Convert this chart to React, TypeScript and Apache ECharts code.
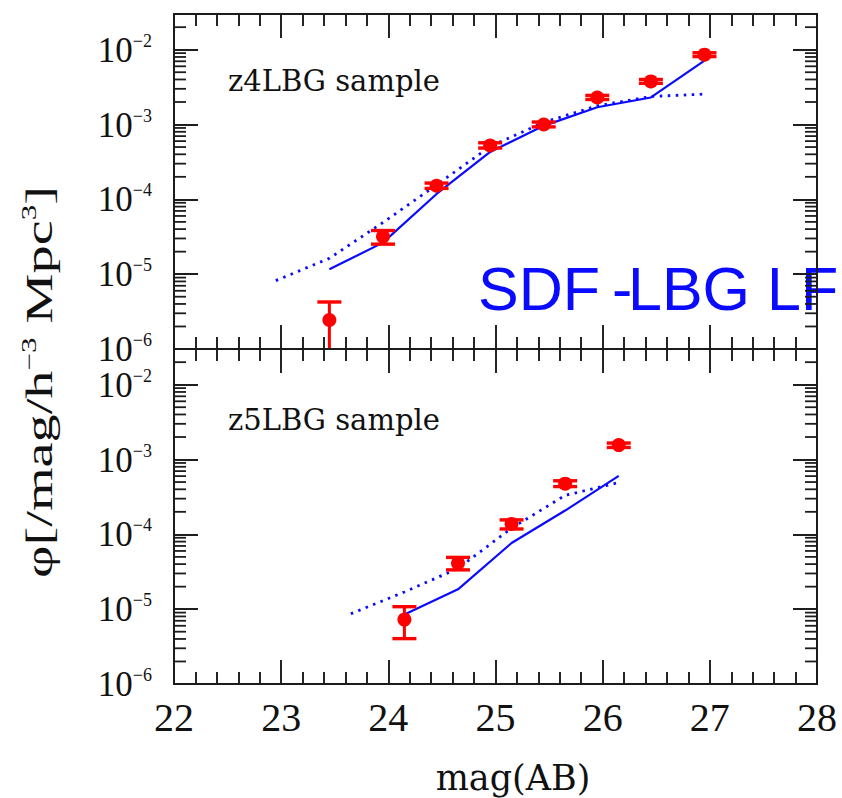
import React, { useEffect, useRef } from 'react';
import * as echarts from 'echarts';

// ---- axis definitions ----
const magMin = 22;
const magMax = 28;
const phiMin = 1e-6;
const phiMax = 3e-2;

// ---- z4LBG sample (top panel) ----
const z4Mag = [23.45, 23.95, 24.45, 24.95, 25.45, 25.95, 26.45, 26.95];
const z4Phi = [2.44e-6, 3.18e-5, 1.52e-4, 5.25e-4, 1.0e-3, 2.3e-3, 3.77e-3, 8.58e-3];
const z4Hi = [4.25e-6, 3.83e-5, 1.65e-4, 5.7e-4, 1.08e-3, 2.45e-3, 4.0e-3, 9.1e-3];
const z4Lo = [8e-7, 2.52e-5, 1.4e-4, 4.85e-4, 0.93e-3, 2.16e-3, 3.55e-3, 8.1e-3];
const z4SolidMag = [23.45, 23.95, 24.45, 24.95, 25.45, 25.95, 26.45, 26.95];
const z4Solid = [1.16e-5, 2.64e-5, 1.18e-4, 4.3e-4, 9.6e-4, 1.7e-3, 2.3e-3, 7.13e-3];
const z4DottedMag = [22.95, 23.45, 23.95, 24.45, 24.95, 25.45, 25.95, 26.45, 26.95];
const z4Dotted = [8.2e-6, 1.63e-5, 4.9e-5, 1.56e-4, 5.08e-4, 1.07e-3, 1.78e-3, 2.37e-3, 2.55e-3];

// ---- z5LBG sample (bottom panel) ----
const z5Mag = [24.15, 24.65, 25.15, 25.65, 26.15];
const z5Phi = [7.26e-6, 4.12e-5, 1.38e-4, 4.76e-4, 1.56e-3];
const z5Hi = [1.08e-5, 4.92e-5, 1.56e-4, 5.2e-4, 1.66e-3];
const z5Lo = [4.04e-6, 3.35e-5, 1.18e-4, 4.35e-4, 1.45e-3];
const z5SolidMag = [24.15, 24.65, 25.15, 25.65, 26.15];
const z5Solid = [8.5e-6, 1.84e-5, 7.66e-5, 2.08e-4, 6.05e-4];
const z5DottedMag = [23.65, 24.15, 24.65, 25.15, 25.65, 26.15];
const z5Dotted = [8.67e-6, 1.7e-5, 3.5e-5, 1.21e-4, 3.32e-4, 4.92e-4];

const panelLabels = ['z4LBG sample', 'z5LBG sample'];
const xTitle = 'mag(AB)';

const FRAME = '#1c1c1c';
const RED = '#ff0000';
const BLUE = '#0a0aff';
const SERIF = '"Liberation Serif", "DejaVu Serif", serif';
const SERIF_WIDE = '"DejaVu Serif", "Liberation Serif", serif';

// minor tick values on the log axis (2..9 x 10^k)
const minorPhi: number[] = [];
for (let k = -6; k <= -2; k++) {
  for (let m = 2; m <= 9; m++) {
    const v = m * Math.pow(10, k);
    if (v <= phiMax * 1.0001) minorPhi.push(v);
  }
}

const GRIDS = [
  { left: 174, right: 25, top: 14, height: 335 },
  { left: 174, right: 25, top: 349, height: 335 },
];

function xAxesFor(gridIndex: number, labels: boolean) {
  const base: any = {
    type: 'value',
    gridIndex,
    min: magMin,
    max: magMax,
    interval: 1,
    axisLine: { show: true, onZero: false, lineStyle: { color: FRAME, width: 2 } },
    axisTick: { show: true, inside: true, length: 24, lineStyle: { color: FRAME, width: 1.6 } },
    minorTick: { show: true, splitNumber: 5, length: 12, lineStyle: { color: FRAME, width: 1.6 } },
    splitLine: { show: false },
  };
  return [
    {
      ...base,
      position: 'bottom',
      axisLabel: labels
        ? { show: true, margin: 13, fontFamily: SERIF, fontSize: 40, color: '#111' }
        : { show: false },
    },
    { ...base, position: 'top', axisLabel: { show: false } },
  ];
}

function yLabel(v: number) {
  const e = Math.log10(v);
  const r = Math.round(e);
  if (Math.abs(e - r) > 0.01) return '';
  return '{b|10}{s|\u2212' + -r + '}';
}

function yAxesFor(gridIndex: number, labels: boolean) {
  const base: any = {
    type: 'log',
    logBase: 10,
    gridIndex,
    min: phiMin,
    max: phiMax,
    axisLine: { show: true, onZero: false, lineStyle: { color: FRAME, width: 2 } },
    axisTick: { show: true, inside: true, length: 24, lineStyle: { color: FRAME, width: 1.8 } },
    splitLine: { show: false },
  };
  return [
    {
      ...base,
      position: 'left',
      axisLabel: labels
        ? {
            show: true,
            margin: 22,
            formatter: yLabel,
            rich: {
              b: { fontFamily: SERIF, fontSize: 35, color: '#111', lineHeight: 36, verticalAlign: 'bottom' },
              s: { fontFamily: SERIF, fontSize: 18, color: '#111', lineHeight: 28, verticalAlign: 'top' },
            },
          }
        : { show: false },
    },
    { ...base, position: 'right', axisLabel: { show: false } },
  ];
}

// inward minor ticks on both vertical edges of a panel, placed through the log scale
function yTickSeries(xi: number, yi: number) {
  return {
    type: 'custom',
    coordinateSystem: 'cartesian2d',
    xAxisIndex: xi,
    yAxisIndex: yi,
    z: 5,
    encode: { x: 0, y: 1 },
    data: minorPhi.map((v) => [magMin, v]),
    renderItem: (params: any, api: any) => {
      const l = api.coord([magMin, api.value(1)]);
      const r = api.coord([magMax, api.value(1)]);
      return {
        type: 'group',
        children: [
          { type: 'line', shape: { x1: l[0], y1: l[1], x2: l[0] + 12, y2: l[1] }, style: { stroke: FRAME, lineWidth: 1.8 } },
          { type: 'line', shape: { x1: r[0], y1: r[1], x2: r[0] - 12, y2: r[1] }, style: { stroke: FRAME, lineWidth: 1.8 } },
        ],
      };
    },
  };
}

function errSeries(xi: number, yi: number, mags: number[], lo: number[], hi: number[]) {
  return {
    type: 'custom',
    coordinateSystem: 'cartesian2d',
    xAxisIndex: xi,
    yAxisIndex: yi,
    clip: true,
    z: 3,
    encode: { x: 0, y: [1, 2] },
    data: mags.map((m, i) => [m, lo[i], hi[i]]),
    renderItem: (params: any, api: any) => {
      const t = api.coord([api.value(0), api.value(2)]);
      const b = api.coord([api.value(0), api.value(1)]);
      const hw = 12;
      return {
        type: 'group',
        children: [
          { type: 'line', shape: { x1: t[0], y1: t[1], x2: b[0], y2: b[1] }, style: { stroke: RED, lineWidth: 3 } },
          { type: 'line', shape: { x1: t[0] - hw, y1: t[1], x2: t[0] + hw, y2: t[1] }, style: { stroke: RED, lineWidth: 3.4 } },
          { type: 'line', shape: { x1: b[0] - hw, y1: b[1], x2: b[0] + hw, y2: b[1] }, style: { stroke: RED, lineWidth: 3.4 } },
        ],
      };
    },
  };
}

function pointSeries(xi: number, yi: number, mags: number[], phi: number[]) {
  return {
    type: 'scatter',
    xAxisIndex: xi,
    yAxisIndex: yi,
    symbol: 'circle',
    symbolSize: 14,
    itemStyle: { color: RED, opacity: 1 },
    z: 4,
    data: mags.map((m, i) => [m, phi[i]]),
  };
}

function lineSeries(xi: number, yi: number, mags: number[], phi: number[], dotted: boolean) {
  return {
    type: 'line',
    xAxisIndex: xi,
    yAxisIndex: yi,
    symbol: 'none',
    z: 2,
    lineStyle: dotted
      ? { color: BLUE, width: 2.8, type: [2.5, 5.5] }
      : { color: BLUE, width: 2.2, type: 'solid' },
    data: mags.map((m, i) => [m, phi[i]]),
  };
}

export default function App() {
  const ref = useRef<HTMLDivElement>(null);
  const frameRef = useRef<HTMLDivElement>(null);
  useEffect(() => {
    if (!ref.current || !frameRef.current) return;
    const chart = echarts.init(ref.current, undefined, { renderer: 'svg' });
    const option: any = {
      animation: false,
      grid: GRIDS,
      xAxis: [...xAxesFor(0, false), ...xAxesFor(1, true)],
      yAxis: [...yAxesFor(0, true), ...yAxesFor(1, true)],
      series: [
        lineSeries(0, 0, z4SolidMag, z4Solid, false),
        lineSeries(0, 0, z4DottedMag, z4Dotted, true),
        errSeries(0, 0, z4Mag, z4Lo, z4Hi),
        pointSeries(0, 0, z4Mag, z4Phi),
        lineSeries(2, 2, z5SolidMag, z5Solid, false),
        lineSeries(2, 2, z5DottedMag, z5Dotted, true),
        errSeries(2, 2, z5Mag, z5Lo, z5Hi),
        pointSeries(2, 2, z5Mag, z5Phi),
      ],
      graphic: [
        {
          type: 'text',
          left: 228,
          top: 66,
          style: { text: panelLabels[0], fontFamily: SERIF_WIDE, fontSize: 29, fill: '#111' },
        },
        {
          type: 'text',
          left: 228,
          top: 405,
          style: { text: panelLabels[1], fontFamily: SERIF_WIDE, fontSize: 29, fill: '#111' },
        },
        {
          type: 'text',
          x: 513,
          y: 778,
          style: {
            text: xTitle,
            fontFamily: SERIF_WIDE,
            fontSize: 35,
            fill: '#111',
            align: 'center',
            verticalAlign: 'middle',
          },
        },
        {
          type: 'text',
          x: 38,
          y: 382,
          rotation: Math.PI / 2,
          scaleX: 1.48,
          style: {
            text: '{a|\u03c6[/mag/h}{s|\u22123}{a| Mpc}{s|3}{a|]}',
            align: 'center',
            verticalAlign: 'middle',
            rich: {
              a: { fontFamily: SERIF, fontSize: 38, fill: '#111', lineHeight: 40, verticalAlign: 'bottom' },
              s: { fontFamily: SERIF, fontSize: 21, fill: '#111', lineHeight: 28, verticalAlign: 'top' },
            },
          },
        },
        {
          type: 'text',
          x: 478,
          y: 289,
          z: 100,
          style: {
            text: '{a|SDF}{h|-}{a|LBG LF}',
            align: 'left',
            verticalAlign: 'middle',
            rich: {
              a: { fontFamily: '"Liberation Sans", Arial, sans-serif', fontSize: 61, fill: BLUE },
              h: { fontFamily: '"Liberation Sans", Arial, sans-serif', fontSize: 61, fill: BLUE, width: 16, padding: [0, 0, 0, 12] },
            },
          },
        },
      ],
    };
    chart.setOption(option);

    // frame layer: panel frames with inward major and minor ticks on all four sides
    const frame = echarts.init(frameRef.current, undefined, { renderer: 'svg' });
    frame.setOption({
      animation: false,
      backgroundColor: 'transparent',
      grid: GRIDS,
      xAxis: [...xAxesFor(0, false), ...xAxesFor(1, false)],
      yAxis: [...yAxesFor(0, false), ...yAxesFor(1, false)],
      series: [yTickSeries(0, 0), yTickSeries(2, 2)],
    });
    return () => {
      chart.dispose();
      frame.dispose();
    };
  }, []);
  return (
    <div style={{ position: 'fixed', left: 0, top: 0, width: 842, height: 798, background: '#fff' }}>
      <div ref={ref} style={{ position: 'absolute', left: 0, top: 0, width: 842, height: 798 }} />
      <div
        ref={frameRef}
        style={{ position: 'absolute', left: 0, top: 0, width: 842, height: 798, pointerEvents: 'none' }}
      />
    </div>
  );
}
